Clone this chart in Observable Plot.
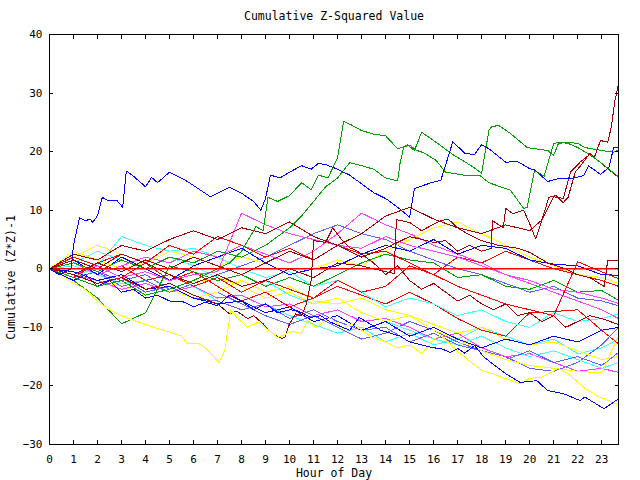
<!DOCTYPE html>
<html>
<head>
<meta charset="utf-8">
<script src="https://cdn.jsdelivr.net/npm/d3@7"></script>
<script src="https://cdn.jsdelivr.net/npm/@observablehq/plot@0.6"></script>
<style>
  html, body { margin: 0; padding: 0; background: #fff; }
  svg { display: block; }
</style>
</head>
<body>
<div id="chart"></div>
<script>
// ---------- text ----------
const titleText = "Cumulative Z-Squared Value";
const xLabel = "Hour of Day";
const yLabel = "Cumulative (Z*Z)-1";
const xTicks = [0,1,2,3,4,5,6,7,8,9,10,11,12,13,14,15,16,17,18,19,20,21,22,23];
const yTicks = [-30,-20,-10,0,10,20,30,40];

// ---------- hourly grid for background series ----------
const hours = [0,1,2,3,4,5,6,7,8,9,10,11,12,13,14,15,16,17,18,19,20,21,22,23,23.7];

// background series: values at the hourly grid
const r1 = [0,1.5,-1,0.5,-2,-1,-3,-1.5,-4,-2,-3.5,-5,-3,-4.5,-6,-4,-6,-8.5,-10.5,-11.5,-7.5,-7.3,-7,-10.5,-12.8];
const r2 = [0,-1.5,1,2.5,1,4,2.5,5.5,4,2,3.5,1.5,4,2.5,3,1,-1,-3,-4.5,-6,-7,-8,1.2,-0.5,-1.7];
const r3 = [0,2,0.5,-1.5,1,-2,-0.5,-3,-5.5,-4,-6.5,-5,-2,-4,-3,0.5,-1,2,1,3,1.5,0,-1,-2,-3];
const g3 = [0,-2,-5,-9.4,-7.5,0.5,-0.5,-2,-1,-3,-1.5,-3,-1,1,2.5,1.5,1,-1.5,-1,-3,-3.5,-2,-4,-3.7,-5.4];
const b3 = [0,1.5,-1,2,0,-2,0.5,2,3.5,1,-1,0,0.5,2.5,4,3,5,2.5,4,3.5,1.5,0.8,0.5,-1,-1.1];
const b4 = [0,-0.5,-2,-1,-3.5,-3,-5,-6,-5.5,-7.5,-6.5,-9,-8,-10.5,-9,-11.5,-10,-12,-13.5,-12,-13,-11.5,-12.5,-10.5,-10];
const m1 = [0,-1,0.5,-1.5,-0.5,-2,-1,-0.5,9.5,7.5,6,5,4,3.5,5.5,4,3,2,0.5,-1,-2,-3.5,-4,-5,-5.9];
const m2 = [0,1,-1,0.5,2,1,3,2,4,2.5,1,3,6,9.5,7.5,6,4,2.5,1,-1,-2.5,-4,-5.5,-7,-8.5];
const m3 = [0,-1,-2,-3.5,-2.5,-4,-3,-5,-4.5,-6.5,-6,-8,-7,-9,-8.5,-10,-12,-11,-13.5,-15,-14.5,-16,-17.5,-17,-17.7];
const c1 = [0,1,3,1.5,0,2,0.5,-1.5,-3,-2,-4.5,-6,-5,-7.5,-9,-10.5,-12,-13,-11.5,-13.5,-15,-14,-15.5,-17,-16];
const c2 = [0,-1.5,0.5,5.5,4,3,3.5,2,0,-1.5,-0.5,-3,-2,-4,-6.5,-5,-6,-8,-7,-9,-10,-7.5,-9,-8.5,-7.7];
const c3 = [0,0.5,-1,-2.5,-2,-4,-3,-5.5,-7,-6,-8,-9.5,-11,-10,-12.5,-11,-13,-12,-10,-11.5,-13,-12,-14.5,-13.5,-12];
const y2 = [0,3,1.5,0,1,-1,-2.5,-1.5,-3,-5,-4,-6,-5,-7.5,-9,-8,-10.5,-12,-14,-15.5,-16.5,-17,-17.5,-17.8,-11.4];
const y3 = [0,2,4,2.5,1,3,2,0.5,2,1,-1,0,1.5,0.5,3,5,7,8,6,4,2,0.5,-1,-1.5,-2.5];
const y4 = [0,-1,-2,-3,-4.5,-3.5,-5,-4,-2,-4,-3,-5.5,-6,-5,-7,-8,-9.5,-11,-10,-12,-13,-12.5,-14,-15.5,-15];
const s1 = [0,-1.5,-0.5,-3,-2,-4,-2.5,-1,0.5,2,4,6,7.5,6,5,3,1.5,0,-1,-2.5,-4,-3,-5,-5.5,-6.3];
const s2 = [0,-1,-2.5,-1.5,-4,-3,-5,-5.5,-7,-6,-8.5,-7,-9,-10.5,-10,-12.5,-11,-13,-14,-15.5,-14,-16,-15,-16.5,-14.3];
const s3 = [0,1,-0.5,-2,-1,-3.5,-5,-4,-6,-8,-9.5,-8,-10,-12,-11,-9,-10.5,-12.5,-14,-15,-17,-17.5,-16,-13,-10];

// prominent series: [hour, value] pairs
const bTop = [[0,0],[0.4,-1],[0.9,0],[1.0,4],[1.25,8.7],[1.5,8.2],[1.7,8.5],[1.8,7.9],[2.0,9.1],[2.2,12.2],[2.4,11.7],[2.8,11.7],[3.05,10.5],[3.2,16.7],[3.5,15.8],[4.0,14],[4.25,15.6],[4.5,14.7],[5.0,16.5],[5.75,14.9],[6.3,13.4],[6.7,12.3],[7.5,13.9],[8.0,12.9],[8.5,11.5],[8.8,10],[9.0,12],[9.2,16],[9.6,15.5],[10.0,16.5],[10.5,17.6],[10.9,17],[11.2,18],[11.5,17.8],[12.0,17],[12.5,16],[13.0,14.5],[13.5,13],[14.0,12],[14.5,10.5],[14.8,9.5],[15.0,8.8],[15.2,13.7],[15.9,14.7],[16.3,15.1],[16.8,21.7],[17.3,19.7],[17.7,19.5],[18.0,21.2],[18.3,20.5],[19.0,18.2],[19.5,18.3],[20.0,17.1],[20.2,16.9],[20.75,14.9],[21.2,15.4],[21.7,15.4],[22.25,15.9],[22.45,17.6],[22.95,16.1],[23.3,17.3],[23.5,20.7],[23.7,20.7]];
const gA = [[0,0],[1,-1.5],[2,-3],[3,-2],[4,-4.5],[5,-3.5],[6,-2],[7,0],[7.5,1],[8,3],[8.6,7.2],[8.9,6.5],[9.1,12.2],[9.5,11.5],[10,12.5],[10.5,14.7],[10.9,13.5],[11.2,16],[11.6,15.5],[12,19],[12.25,25.2],[12.6,24.5],[13,23.6],[13.5,23],[14,22.7],[14.5,20.5],[15.0,21.1],[15.3,20.2],[15.6,19.8],[16.1,18.5],[16.5,16.5],[17.4,15.9],[17.9,16],[18.3,14.7],[19.2,13.4],[19.75,10.3],[19.9,10.5],[20.2,16.8],[20.6,15.8],[21,21.4],[21.3,21.6],[21.6,21.4],[22,20.7],[22.5,19.5],[23,18],[23.7,15.7]];
const gB = [[0,0],[1,1],[2,-0.5],[3,1.5],[4,0],[5,2],[6,1],[7,3],[8,2],[9,4],[10,7],[10.5,9],[11,11.5],[11.5,14],[12,15.5],[12.5,18.1],[13,17.6],[13.5,17],[14,15.5],[14.5,15],[14.6,18],[14.75,20.7],[14.9,21.2],[15.2,20.2],[15.5,23.3],[15.9,22.2],[16.3,21],[16.8,19.5],[17.2,18.5],[17.6,17.5],[18.0,16.3],[18.3,23.6],[18.4,24.2],[18.7,24.5],[19.2,23.1],[19.9,20.7],[20.75,20.2],[21,19.4],[21.2,21.4],[21.6,21.6],[22,21.4],[22.3,20.7],[23,20.2],[23.5,19.9],[23.7,20.3]];
const dr1 = [[0,0],[1,-1],[2,1],[3,-0.5],[4,1.5],[5,0],[6,2],[7,0.5],[8,-1],[9,1],[10,3],[11,1.5],[12,4],[13,2],[14,3.5],[15,5.5],[16,4.5],[16.5,4.8],[17,3],[17.5,4],[18,3],[18.4,3.5],[18.45,8.2],[18.9,7],[19,10.3],[19.3,9.4],[19.75,10],[20,7.7],[20.25,5.1],[20.5,8.2],[20.8,12.2],[21.1,12.5],[21.4,11.3],[21.6,12.2],[21.9,16.5],[22.2,18],[22.5,19.7],[22.7,19.1],[22.95,21.9],[23.25,21.6],[23.4,24.2],[23.55,28.7],[23.7,31.5]];
const dr2 = [[0,0],[1,1.5],[2,0],[3,2.5],[4,1],[5,-1],[6,-2.5],[7,-1],[8,-3],[9,-2],[10,0],[11,-1.5],[12,1],[13,0.5],[14,-0.5],[14.35,-0.8],[14.45,8.4],[15,7.9],[15.5,6.5],[15.9,7.4],[16.3,8.2],[16.6,8.5],[17,7],[17.4,6],[18,4.8],[18.7,4],[19.5,3.5],[20,2.8],[20.8,0.9],[21.5,0],[22,-1],[22.5,-1.5],[23.1,-3],[23.25,1.4],[23.7,1.4]];
const dr3 = [[0,0],[1,-1],[2,-2.5],[3,-1.5],[4,-3.5],[5,-2.5],[6,-4.5],[7,-6],[7.5,-7.7],[7.8,-7.2],[8.25,-8.5],[8.5,-8],[8.9,-9.4],[9.3,-11.1],[9.7,-11.9],[9.8,-11.7],[10,-9.4],[10.25,-7.7],[10.5,-8],[10.7,-6],[10.9,-2],[11,4.8],[11.5,4.5],[11.8,7],[12.2,4.8],[12.5,3.6],[12.8,3.1],[13.5,1],[14,-1],[14.5,0.5],[15,-2],[15.5,-3.5],[16,-2.5],[16.5,-4],[17,-5.5],[17.5,-4.5],[18,-6],[18.5,-7],[19,-6],[19.5,-8],[20,-7.5],[20.5,-9],[21,-8],[21.5,-10],[22,-9],[22.5,-8],[23,-8.5],[23.7,-9.5]];
const dr4 = [[0,0],[1,2.5],[2,1.5],[3,4],[4,3],[5,5],[6,6.5],[7,5],[8,7],[9,6],[10,8],[11,5.5],[12,4],[13,6],[14,9],[15,10.5],[16,8.5],[17,7],[18,6],[19,7.5],[20,6.5],[20.5,8.3],[21,12.3],[21.4,12],[21.7,16.5],[22.1,18.2],[22.5,19.5],[22.75,18.8],[23.25,17.1],[23.7,15.6]];
const yBot = [[0,0],[0.5,-1],[1,-2.5],[1.5,-3.5],[2,-5.5],[2.5,-7],[3,-8],[3.5,-8.8],[4,-9.5],[4.5,-10.2],[5,-10.8],[5.5,-11.5],[5.75,-12.8],[6.2,-12.7],[6.5,-13.5],[6.9,-15.3],[7.05,-16],[7.3,-14],[7.55,-7],[7.8,-8.3],[8.25,-10],[8.7,-9.1],[9.5,-11.7],[10.1,-10.7],[10.5,-11],[10.75,-8.8],[11.1,-10],[11.7,-8.3],[12.2,-10.2],[12.6,-9.4],[13.4,-11.6],[14,-12.5],[14.5,-13.5],[15,-13],[15.5,-14.5],[16,-12],[16.3,-11.4],[17.1,-14.5],[18,-17.3],[19.6,-19.6],[20,-18.7],[20.5,-18.5],[21.2,-17],[21.6,-17.9],[22.3,-20.4],[22.9,-21.9],[23.3,-22.5],[23.7,-23.3]];
const bBot = [[0,0],[0.5,-1],[1,-2],[1.5,-1],[2,-3],[2.5,-2],[3,-4],[3.5,-3.5],[4,-5],[4.5,-4.5],[5,-5.5],[5.5,-5.5],[6,-6.5],[6.5,-5.7],[7,-6.3],[7.5,-4.5],[8,-5.5],[8.5,-7],[9,-6],[9.5,-7.5],[10,-7],[10.3,-7.1],[10.9,-8.3],[11.3,-8],[11.7,-9.1],[12.5,-10.5],[12.9,-8.3],[13.8,-10.5],[14.2,-11],[14.6,-11.5],[15,-12.5],[15.5,-13],[16,-13.5],[16.3,-13.6],[16.7,-14.3],[17,-13.6],[17.3,-14.4],[17.7,-13.1],[18.1,-15.1],[19,-17.9],[19.6,-19.4],[20.3,-19.1],[20.75,-20.8],[21.4,-21.3],[22.1,-22.5],[22.3,-21.9],[23.1,-23.9],[23.7,-22.2]];

// ---------- styles ----------
const palette = {
  red: "#ff0000", green: "#00a000", blue: "#0000ff", magenta: "#ff40ff",
  cyan: "#40ffff", sienna: "#a00000", yellow: "#ffff00", slate: "#6060ff"
};

const hourly = (arr) => hours.map((h, i) => ({h, v: arr[i]}));
const pairs = (arr) => arr.map(([h, v]) => ({h, v}));

const series = [
  [hourly(c3), "cyan"], [hourly(s3), "slate"], [hourly(y4), "yellow"],
  [hourly(m3), "magenta"], [hourly(c1), "cyan"], [hourly(s2), "slate"],
  [hourly(y2), "yellow"], [hourly(b4), "blue"], [hourly(r1), "red"],
  [hourly(c2), "cyan"], [hourly(m2), "magenta"], [hourly(s1), "slate"],
  [hourly(y3), "yellow"], [hourly(r3), "red"], [hourly(g3), "green"],
  [hourly(b3), "blue"], [hourly(m1), "magenta"], [hourly(r2), "red"],
  [pairs(dr3), "sienna"], [pairs(dr2), "sienna"], [pairs(dr4), "sienna"],
  [pairs(yBot), "yellow"], [pairs(bBot), "blue"],
  [pairs(gA), "green"], [pairs(gB), "green"], [pairs(bTop), "blue"],
  [pairs(dr1), "sienna"]
];

const font = "'DejaVu Sans Mono', monospace";

const chart = Plot.plot({
  width: 640,
  height: 480,
  marginLeft: 49,
  marginRight: 22,
  marginTop: 34,
  marginBottom: 36,
  style: {fontFamily: font, fontSize: "11px", color: "black", background: "white", overflow: "visible"},
  x: {domain: [0, 23.7], label: null},
  y: {domain: [-30, 40], label: null},
  marks: [
    ...series.map(([data, c]) => Plot.line(data, {x: "h", y: "v", stroke: palette[c], strokeWidth: 1, curve: "linear"})),
    Plot.ruleY([0], {stroke: palette.red, strokeWidth: 1.6}),
    Plot.frame({stroke: "black", strokeWidth: 1}),
    Plot.axisX(xTicks, {anchor: "bottom", tickSize: -4, tickPadding: 15, label: null, fontSize: 11}),
    Plot.axisX(xTicks, {anchor: "top", tickSize: -4, tickFormat: () => "", label: null}),
    Plot.axisY(yTicks, {anchor: "left", tickSize: -4, tickPadding: 11, label: null, fontSize: 11}),
    Plot.axisY(yTicks, {anchor: "right", tickSize: -4, tickFormat: () => "", label: null}),
    Plot.text([titleText], {frameAnchor: "top", dy: -18, lineAnchor: "middle", textAnchor: "middle", fontSize: 11.5}),
    Plot.text([xLabel], {frameAnchor: "bottom", dy: 29, lineAnchor: "middle", textAnchor: "middle", fontSize: 11.5}),
    Plot.text([yLabel], {frameAnchor: "left", dx: -38, dy: 38, rotate: -90, lineAnchor: "middle", textAnchor: "middle", fontSize: 11.5})
  ]
});
chart.querySelectorAll("path").forEach(p => p.setAttribute("shape-rendering", "crispEdges"));
document.getElementById("chart").appendChild(chart);
</script>
</body>
</html>
